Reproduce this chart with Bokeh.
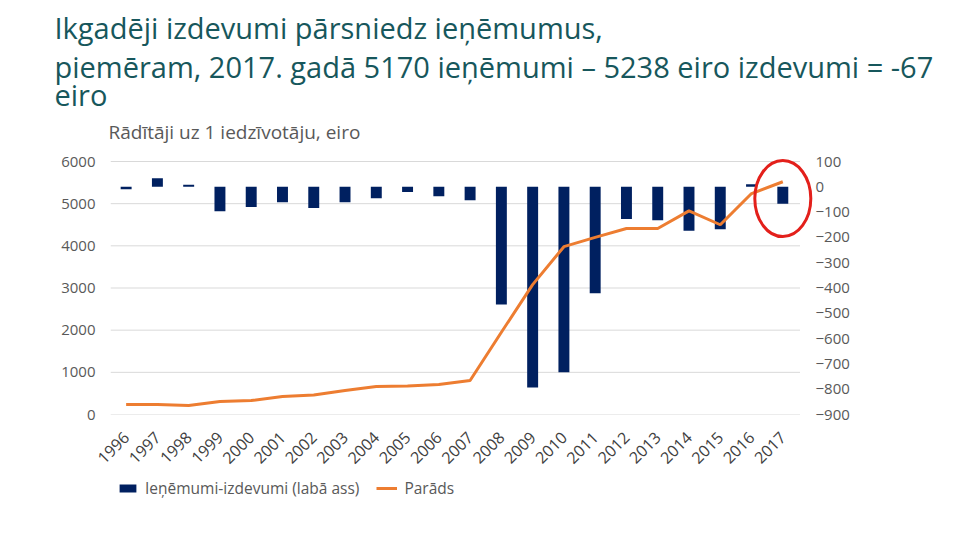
from math import pi
from bokeh.plotting import figure
from bokeh.layouts import column
from bokeh.models import Range1d, LinearAxis, FixedTicker, Legend, LegendItem, Title
from bokeh.embed import file_html
from bokeh.resources import INLINE

# ---- data ----
years = ["1996", "1997", "1998", "1999", "2000", "2001", "2002", "2003", "2004",
         "2005", "2006", "2007", "2008", "2009", "2010", "2011", "2012", "2013",
         "2014", "2015", "2016", "2017"]
balance = [-10, 34, 8, -97, -80, -61, -84, -61, -45, -21, -37, -53,
           -465, -793, -733, -421, -127, -132, -174, -168, 10, -67]
debt = [237, 237, 213, 308, 332, 427, 462, 569, 664, 675, 711, 806,
        1950, 3080, 3980, 4200, 4410, 4410, 4830, 4500, 5240, 5520]
left_ticks = [0, 1000, 2000, 3000, 4000, 5000, 6000]
right_ticks = [-900, -800, -700, -600, -500, -400, -300, -200, -100, 0, 100]
title_lines = ["Ikgadēji izdevumi pārsniedz ieņēmumus,",
               "piemēram, 2017. gadā 5170 ieņēmumi – 5238 eiro izdevumi =  -67",
               "eiro"]
subtitle = "Rādītāji uz 1 iedzīvotāju, eiro"
bar_label = "Ieņēmumi-izdevumi (labā ass)"
line_label = "Parāds"
highlight_year = "2017"
highlight_debt = 5120

FONT = "Open Sans"
GRAY = "#595959"
BAR_COLOR = "#002060"
LINE_COLOR = "#ED7D31"
TITLE_COLOR = "#17575C"

# ---- layout constants (pixels) ----
W = 944
F_LEFT, F_RIGHT = 110, 814
F_TOP = 158
F_H = 256
BOTTOM_BORDER = 62
SLOT = 31.27                      # px per category
GRID_OFFSET = 3                   # 6000 gridline sits 3px below frame top
GRID_H = F_H - GRID_OFFSET
px_per_left = GRID_H / (left_ticks[-1] - left_ticks[0])
px_per_right = GRID_H / (right_ticks[-1] - right_ticks[0])

# ---- main chart ----
xs = list(range(len(years)))
x_end = -0.5 + (F_RIGHT - F_LEFT) / SLOT

p = figure(frame_width=F_RIGHT - F_LEFT, frame_height=F_H,
           x_range=Range1d(-0.5, x_end),
           y_range=Range1d(left_ticks[0], left_ticks[-1] + GRID_OFFSET / px_per_left),
           output_backend="svg", toolbar_location=None,
           min_border_left=F_LEFT, min_border_right=W - F_RIGHT,
           min_border_top=F_TOP, min_border_bottom=BOTTOM_BORDER)
p.outline_line_color = None
p.background_fill_color = None
p.extra_y_ranges = {"r": Range1d(right_ticks[0],
                                 right_ticks[-1] + GRID_OFFSET / px_per_right)}
p.xgrid.grid_line_color = None
p.ygrid.grid_line_color = None

# gridlines limited to the category area
p.segment(x0=[-0.5] * len(left_ticks), x1=[len(years) - 0.45] * len(left_ticks),
          y0=left_ticks, y1=left_ticks, line_color="#D9D9D9", line_width=1)

bars = p.vbar(x=xs, top=balance, bottom=0, width=0.35,
              fill_color=BAR_COLOR, line_color=None, y_range_name="r")
ln = p.line(x=xs, y=debt, line_color=LINE_COLOR, line_width=3)

p.ellipse(x=[years.index(highlight_year)], y=[highlight_debt], width=56, height=76,
          width_units="screen", height_units="screen",
          fill_color=None, line_color="#E3201B", line_width=3)

p.yaxis.ticker = FixedTicker(ticks=left_ticks)
p.xaxis.ticker = FixedTicker(ticks=xs)
p.xaxis.major_label_overrides = {i: y for i, y in zip(xs, years)}
raxis = LinearAxis(y_range_name="r", ticker=FixedTicker(ticks=right_ticks))
p.add_layout(raxis, "right")
for ax in [p.yaxis[0], raxis, p.xaxis[0]]:
    ax.axis_line_color = None
    ax.major_tick_line_color = None
    ax.minor_tick_line_color = None
    ax.major_tick_out = 0
    ax.major_tick_in = 0
    ax.minor_tick_out = 0
    ax.major_label_text_font = FONT
    ax.major_label_text_font_size = "15px"
    ax.major_label_text_color = GRAY
p.yaxis[0].major_label_standoff = 15
raxis.major_label_standoff = 1
p.xaxis.major_label_orientation = pi / 4
p.xaxis.major_label_standoff = 20
p.xaxis.major_label_text_font_size = "16px"
p.xaxis.major_label_text_color = "#404040"

# titles (first added = closest to the plot)
p.add_layout(Title(text=subtitle, align="left", offset=-2, standoff=28,
                   text_font=FONT, text_font_size="19px", text_color=GRAY,
                   text_font_style="normal"), "above")
for t, s in zip(reversed(title_lines), [-22, -4, -1]):
    p.add_layout(Title(text=t, align="left", offset=-56, standoff=s,
                       text_font=FONT, text_font_size="29px", text_color=TITLE_COLOR,
                       text_font_style="normal"), "above")

# ---- legend strip (proxy renderers lie outside its visible range) ----
leg = figure(frame_width=W, frame_height=40, x_range=Range1d(1000, 1001),
             y_range=Range1d(5000, 5001), x_axis_location=None, y_axis_location=None,
             output_backend="svg", toolbar_location=None, min_border=0)
leg.outline_line_color = None
leg.grid.visible = False
lb = leg.vbar(x=xs, top=balance, width=0.35, fill_color=BAR_COLOR, line_color=None)
ll = leg.line(x=xs, y=debt, line_color=LINE_COLOR, line_width=3)
legend = Legend(items=[LegendItem(label=bar_label, renderers=[lb]),
                       LegendItem(label=line_label, renderers=[ll])],
                location=(117, 17), orientation="horizontal",
                glyph_width=21, glyph_height=10,
                label_text_font=FONT, label_text_font_size="15.5px",
                label_text_color=GRAY, label_standoff=7, spacing=17,
                border_line_color=None, background_fill_alpha=0,
                padding=0, margin=0)
leg.add_layout(legend, "center")

layout = column(p, leg, spacing=0)
open("out.html", "w").write(file_html(layout, INLINE))
